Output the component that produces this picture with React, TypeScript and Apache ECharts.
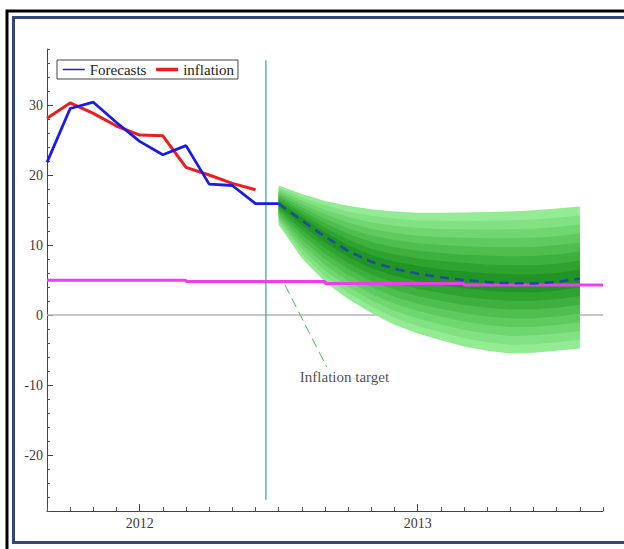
import React, { useEffect, useRef } from "react";
import * as echarts from "echarts";

// x values are months since September 2011 (0 = Sep 2011, 4 = Jan 2012, 16 = Jan 2013)
const histMonths = [0, 1, 2, 3, 4, 5, 6, 7, 8, 9, 10];
const forecastsHist = [21.8, 29.5, 30.4, 27.5, 24.8, 22.9, 24.2, 18.7, 18.5, 15.9, 15.9];
const inflationMonths = [0, 1, 2, 3, 4, 5, 6, 7, 8, 9];
const inflation = [28.1, 30.3, 28.8, 27.0, 25.7, 25.6, 21.1, 20.0, 18.8, 17.9];

const fanMonths = [10, 11, 12, 13, 14, 15, 16, 17, 18, 19, 20, 21, 22, 23];
const fanCenter = [15.9, 13.5, 11.2, 9.15, 7.6, 6.6, 5.9, 5.4, 5.0, 4.7, 4.55, 4.5, 4.7, 5.2];
const fanUpper = [18.5, 17.3, 16.3, 15.6, 15.1, 14.8, 14.6, 14.6, 14.65, 14.7, 14.8, 14.95, 15.2, 15.5];
const fanLower = [12.9, 8.1, 4.7, 2.3, 0.3, -1.4, -2.65, -3.6, -4.5, -5.1, -5.5, -5.4, -5.1, -4.8];
const fanLevels = [1, 0.875, 0.75, 0.625, 0.5, 0.375, 0.25, 0.125];
const fanColors = ["#93ec93", "#82e182", "#70d670", "#5fca5f", "#4ebe4e", "#3db13d", "#2ea32f", "#209426"];

const targetMonths = [0, 6, 12, 18, 24];
const targetValues = [4.95, 4.8, 4.5, 4.3, 4.3];

const zeroLineMonths = [0, 24];
const nowcastMonth = 9.45;
const nowcastRange = [36.4, -26.4];

const annotationMonths = [10.27, 12.07];
const annotationValues = [4.3, -7.4];
const annotationText = "Inflation target";
const annotationLabelPos = [12.84, -8.86];

const yLabelValues = [-20, -10, 0, 10, 20, 30];
const yearLabelMonths = [4, 16];
const yearLabels = ["2012", "2013"];

const FONT = "Liberation Serif";

export default function App() {
  const ref = useRef<HTMLDivElement>(null);
  useEffect(() => {
    if (!ref.current) return;
    const chart = echarts.init(ref.current, null, { renderer: "svg" });
    const xBase = { type: "value", min: 0, max: 24, interval: 1, splitLine: { show: false } };
    const yBase = { type: "value", min: -28, max: 38, splitLine: { show: false } };
    chart.setOption({
      animation: false,
      backgroundColor: "#fff",
      grid: { left: 47, right: 21, top: 49, bottom: 38 },
      graphic: [
        {
          type: "rect",
          shape: { x: 7, y: 11, width: 700, height: 600 },
          style: { fill: "none", stroke: "#000", lineWidth: 3 },
          silent: true,
        },
        {
          type: "rect",
          shape: { x: 13.5, y: 17.5, width: 700, height: 525 },
          style: { fill: "none", stroke: "#33477a", lineWidth: 3 },
          silent: true,
        },
      ],
      xAxis: [
        {
          ...xBase,
          axisLine: { show: true, onZero: false, lineStyle: { color: "#444", width: 1 } },
          axisTick: { show: true, inside: true, length: 4, lineStyle: { color: "#555" } },
          axisLabel: { show: false },
        },
        {
          ...xBase,
          position: "bottom",
          axisLine: { show: false, onZero: false },
          axisTick: { show: true, inside: true, length: 7, customValues: yearLabelMonths, lineStyle: { color: "#444" } },
          axisLabel: {
            show: true,
            customValues: yearLabelMonths,
            margin: 5,
            fontFamily: FONT,
            fontSize: 14,
            color: "#3a3a3a",
            formatter: (v: number) => yearLabels[yearLabelMonths.indexOf(v)] ?? "",
          },
        },
      ],
      yAxis: [
        {
          ...yBase,
          interval: 2,
          axisLine: { show: true, onZero: false, lineStyle: { color: "#444", width: 1 } },
          axisTick: { show: true, inside: true, length: 3, lineStyle: { color: "#555" } },
          axisLabel: { show: false },
        },
        {
          ...yBase,
          position: "left",
          axisLine: { show: false, onZero: false },
          axisTick: { show: true, inside: true, length: 6, customValues: yLabelValues, lineStyle: { color: "#444" } },
          axisLabel: {
            show: true,
            customValues: yLabelValues,
            margin: 4,
            fontFamily: FONT,
            fontSize: 14,
            color: "#3a3a3a",
          },
        },
      ],
      legend: {
        left: 57,
        top: 60,
        itemWidth: 22,
        itemHeight: 12,
        itemGap: 8,
        padding: [2, 4, 2, 5],
        borderColor: "#444",
        borderWidth: 1,
        borderRadius: 0,
        backgroundColor: "#fff",
        textStyle: { fontFamily: FONT, fontSize: 15, color: "#222" },
        data: [
          { name: "Forecasts", lineStyle: { width: 1.5 }, itemStyle: { opacity: 0 } },
          { name: "inflation", lineStyle: { width: 3.5 }, itemStyle: { opacity: 0 } },
        ],
      },
      series: [
        {
          name: "zero",
          type: "line",
          data: zeroLineMonths.map((m) => [m, 0]),
          symbol: "none",
          lineStyle: { color: "#b4b4b4", width: 1.5 },
          z: 1,
          silent: true,
        },
        {
          name: "fan",
          type: "custom",
          data: [[fanMonths[0], fanCenter[0]]],
          clip: false,
          z: 2,
          silent: true,
          renderItem: (params: any, api: any) => {
            const children = fanLevels.map((f, k) => {
              const top = fanMonths.map((m, i) => api.coord([m, fanCenter[i] + f * (fanUpper[i] - fanCenter[i])]));
              const bot = fanMonths
                .map((m, i) => api.coord([m, fanCenter[i] - f * (fanCenter[i] - fanLower[i])]))
                .reverse();
              return {
                type: "polygon",
                shape: { points: top.concat(bot) },
                style: { fill: fanColors[k], stroke: "none" },
              };
            });
            return { type: "group", children };
          },
        },
        {
          name: "target",
          type: "line",
          step: "end",
          data: targetMonths.map((m, i) => [m, targetValues[i]]),
          symbol: "none",
          lineStyle: { color: "#f03cf0", width: 3 },
          z: 4,
          silent: true,
        },
        {
          name: "nowcast",
          type: "line",
          data: nowcastRange.map((v) => [nowcastMonth, v]),
          symbol: "none",
          lineStyle: { color: "#2fa58a", width: 1.2 },
          z: 3,
          silent: true,
        },
        {
          name: "annotation",
          type: "line",
          data: annotationMonths.map((m, i) => [m, annotationValues[i]]),
          symbol: "none",
          lineStyle: { color: "#4cbf55", width: 1, type: [10, 5] },
          z: 3,
          silent: true,
        },
        {
          name: "annotationLabel",
          type: "scatter",
          data: [annotationLabelPos],
          symbolSize: 0,
          silent: true,
          label: {
            show: true,
            position: "inside",
            formatter: annotationText,
            fontFamily: FONT,
            fontSize: 15,
            color: "#222",
          },
          z: 5,
        },
        {
          name: "forecastPath",
          type: "line",
          data: fanMonths.map((m, i) => [m, fanCenter[i]]),
          symbol: "none",
          lineStyle: { color: "#1f4c9e", width: 2.5, type: [9, 6] },
          z: 5,
          silent: true,
        },
        {
          name: "inflation",
          type: "line",
          data: inflationMonths.map((m, i) => [m, inflation[i]]),
          symbol: "none",
          lineStyle: { color: "#ee1c1c", width: 3 },
          itemStyle: { color: "#ee1c1c" },
          z: 6,
        },
        {
          name: "Forecasts",
          type: "line",
          data: histMonths.map((m, i) => [m, forecastsHist[i]]),
          symbol: "none",
          lineStyle: { color: "#1a1aee", width: 2.8 },
          itemStyle: { color: "#1a1aee" },
          z: 7,
        },
      ],
    });
    return () => chart.dispose();
  }, []);
  return (
    <div
      ref={ref}
      style={{ position: "absolute", left: 0, top: 0, width: 624, height: 549, background: "#fff" }}
    />
  );
}
